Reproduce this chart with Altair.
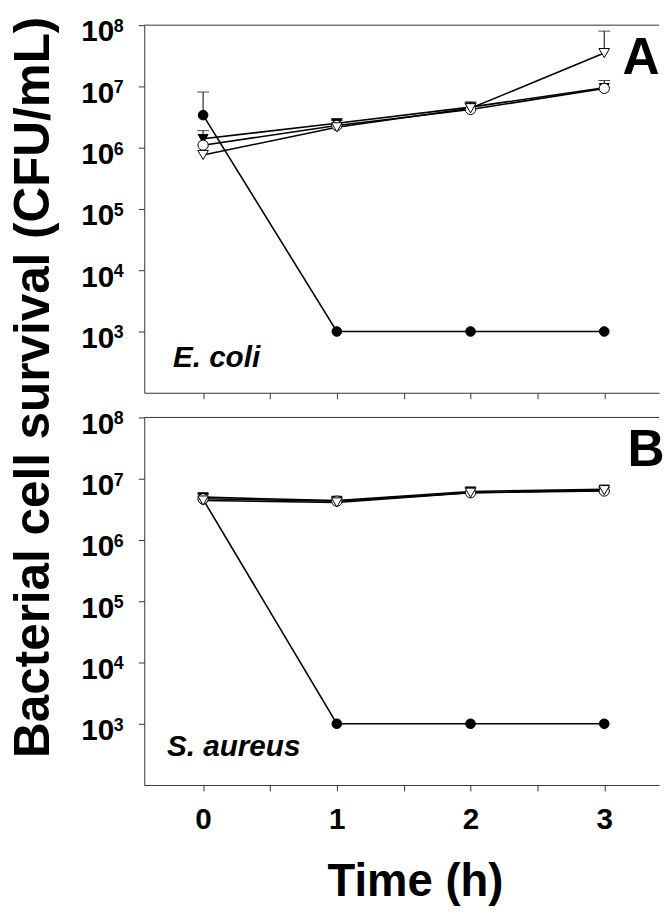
import altair as alt
import pandas as pd

# ---------------- data ----------------
times = [0, 1, 2, 3]
series_names = ["Filled circle", "Filled triangle", "Open circle", "Open triangle"]
series_shapes = ["circle", "triangle-down", "circle", "triangle-down"]
series_fills = ["black", "black", "white", "white"]
series_sizes = [95, 115, 95, 115]

# Panel A: E. coli (CFU/mL)
ecoli_filled_circle = [3.4e6, 1e3, 1e3, 1e3]
ecoli_filled_circle_err = [8.1e6, None, None, None]
ecoli_filled_tri = [1.4e6, 2.5e6, 4.6e6, 9.5e6]
ecoli_filled_tri_err = [1.9e6, 3.0e6, 5.6e6, 1.25e7]
ecoli_open_circle = [1.1e6, 2.3e6, 4.2e6, 9.3e6]
ecoli_open_circle_err = [None, None, None, None]
ecoli_open_tri = [7.6e5, 2.15e6, 4.4e6, 3.5e7]
ecoli_open_tri_err = [None, 2.8e6, 5.3e6, 8.0e7]

# Panel B: S. aureus (CFU/mL)
saureus_filled_circle = [4.6e6, 1e3, 1e3, 1e3]
saureus_filled_circle_err = [5.6e6, None, None, None]
saureus_filled_tri = [5.0e6, 4.4e6, 6.2e6, 6.7e6]
saureus_filled_tri_err = [5.8e6, 5.0e6, 7.3e6, 7.2e6]
saureus_open_circle = [4.7e6, 4.3e6, 5.9e6, 6.3e6]
saureus_open_circle_err = [None, None, None, None]
saureus_open_tri = [4.4e6, 4.1e6, 5.9e6, 6.5e6]
saureus_open_tri_err = [None, None, None, None]

y_tick_values = [1e3, 1e4, 1e5, 1e6, 1e7, 1e8]
y_tick_exponents = ["3", "4", "5", "6", "7", "8"]
x_tick_values = [0, 0.5, 1, 1.5, 2, 2.5, 3]


def long_table(values_list, err_list):
    rows = []
    for name, vals, errs in zip(series_names, values_list, err_list):
        for t, v, e in zip(times, vals, errs):
            rows.append({"series": name, "time": t, "value": v, "err": e})
    return pd.DataFrame(rows)


ecoli_df = long_table(
    [ecoli_filled_circle, ecoli_filled_tri, ecoli_open_circle, ecoli_open_tri],
    [ecoli_filled_circle_err, ecoli_filled_tri_err, ecoli_open_circle_err, ecoli_open_tri_err],
)
saureus_df = long_table(
    [saureus_filled_circle, saureus_filled_tri, saureus_open_circle, saureus_open_tri],
    [saureus_filled_circle_err, saureus_filled_tri_err, saureus_open_circle_err, saureus_open_tri_err],
)
exp_df = pd.DataFrame({"value": y_tick_values, "exp": y_tick_exponents})

# ---------------- styling ----------------
FONT = "Liberation Sans"
W = 521
H = 372
AX = "#333333"

xscale = alt.Scale(domain=[-0.44, 3.41], nice=False, zero=False)
yscale = alt.Scale(type="log", domain=[1e2, 1e8], nice=False)


def y_axis(with_title):
    kw = dict(
        values=y_tick_values,
        labelExpr="'10'",
        labelFont=FONT,
        labelFontWeight="bold",
        labelFontSize=30,
        labelColor="black",
        labelPadding=25,
        labelBaseline="alphabetic",
        labelOffset=16,
        tickSize=6,
        tickColor=AX,
        domainColor=AX,
        grid=False,
    )
    if with_title:
        kw.update(
            title="Bacterial cell survival (CFU/mL)",
            titleFont=FONT,
            titleFontWeight="bold",
            titleFontSize=50,
            titleColor="black",
            titleAngle=270,
            titleX=-97,
            titleY=366,
            titleAlign="center",
            titleBaseline="alphabetic",
        )
    else:
        kw.update(title=None)
    return alt.Axis(**kw)


def x_axis(with_labels):
    kw = dict(
        values=x_tick_values,
        tickSize=6,
        tickColor=AX,
        domainColor=AX,
        grid=False,
    )
    if with_labels:
        kw.update(
            labelExpr="datum.value % 1 == 0 ? format(datum.value, 'd') : ''",
            labelFont=FONT,
            labelFontWeight="bold",
            labelFontSize=30,
            labelColor="black",
            labelPadding=14,
            title="Time (h)",
            titleFont=FONT,
            titleFontWeight="bold",
            titleFontSize=46,
            titleColor="black",
            titleX=274,
            titleY=112,
            titleAlign="center",
            titleBaseline="alphabetic",
        )
    else:
        kw.update(labels=False, title=None)
    return alt.Axis(**kw)


def panel(df, with_xlabels, with_ytitle, letter, letter_x, species, species_x, species_y):
    X = alt.X("time:Q", scale=xscale, axis=x_axis(with_xlabels))
    Y = alt.Y("value:Q", scale=yscale, axis=y_axis(with_ytitle))
    shape = alt.Shape("series:N", scale=alt.Scale(domain=series_names, range=series_shapes), legend=None)
    fill = alt.Fill("series:N", scale=alt.Scale(domain=series_names, range=series_fills), legend=None)
    size = alt.Size("series:N", scale=alt.Scale(domain=series_names, range=series_sizes), legend=None)

    base = alt.Chart(df)
    lines = base.mark_line(color="black", strokeWidth=1.6).encode(
        x=X, y=Y, detail="series:N", order="time:Q"
    )
    errdf = base.transform_filter("isValid(datum.err)")
    bars = errdf.mark_rule(color="black", strokeWidth=1).encode(x=X, y=Y, y2="err:Q")
    caps = errdf.mark_tick(color="black", thickness=1, size=12, orient="horizontal").encode(
        x=X, y=alt.Y("err:Q", scale=yscale, axis=y_axis(with_ytitle))
    )
    pts = base.mark_point(filled=True, stroke="black", strokeWidth=1, opacity=1).encode(
        x=X, y=Y, shape=shape, fill=fill, size=size
    )
    exps = alt.Chart(exp_df).mark_text(
        align="left", baseline="alphabetic", dy=7, font=FONT, fontWeight="bold", fontSize=18, color="black"
    ).encode(x=alt.value(-31), y=alt.Y("value:Q", scale=yscale, axis=y_axis(with_ytitle)), text="exp:N")

    one = pd.DataFrame({"t": [letter], "s": [species]})
    top_line = alt.Chart(one).mark_rule(color=AX, strokeWidth=1).encode(
        x=alt.value(0), x2=alt.value(W), y=alt.value(0)
    )
    letter_txt = alt.Chart(one).mark_text(
        align="left", baseline="alphabetic", font=FONT, fontWeight="bold", fontSize=52, color="black"
    ).encode(text="t:N", x=alt.value(letter_x), y=alt.value(49))
    species_txt = alt.Chart(one).mark_text(
        align="left", baseline="alphabetic", font=FONT, fontWeight="bold", fontStyle="italic",
        fontSize=30, color="black"
    ).encode(text="s:N", x=alt.value(species_x), y=alt.value(species_y))

    return alt.layer(top_line, lines, bars, caps, pts, exps, letter_txt, species_txt).properties(
        width=W, height=H
    )


top = panel(ecoli_df, False, True, "A", 484, "E. coli", 29, 346)
bottom = panel(saureus_df, True, False, "B", 489, "S. aureus", 23, 343)

chart = (
    alt.vconcat(top, bottom, spacing=25, bounds="flush")
    .properties(padding={"left": 8, "top": 10, "right": 0, "bottom": 0}, background="white")
    .configure_view(stroke=None)
)

chart.save("out.html", embed_options={"renderer": "svg", "actions": False})
